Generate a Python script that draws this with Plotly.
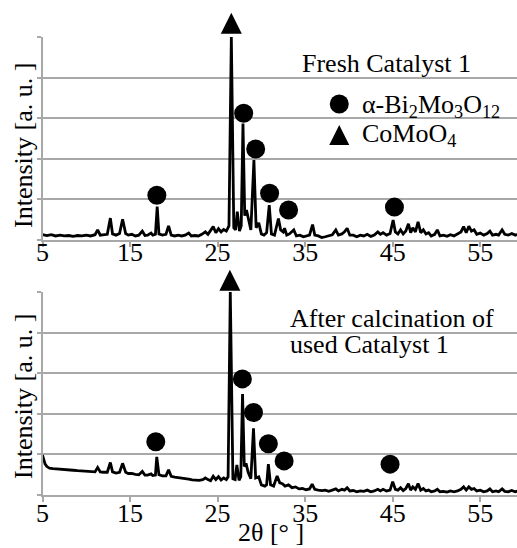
import plotly.graph_objects as go

# ---------------- data ----------------
fresh_x = [5.0, 5.5, 6.0, 6.5, 7.0, 7.5, 8.0, 8.5, 9.0, 9.5, 10.0, 10.5, 11.0, 11.3, 11.6, 12.0, 12.4, 12.75, 13.0, 13.4,
           13.8, 14.15, 14.5, 14.8, 15.2, 15.6, 16.0, 16.4, 16.7, 17.0, 17.4, 17.6, 17.9, 18.1, 18.3, 18.7, 19.1, 19.4, 19.7, 20.1,
           20.5, 20.9, 21.3, 21.7, 22.0, 22.4, 22.8, 23.2, 23.6, 23.9, 24.2, 24.5, 24.8, 25.1, 25.4, 25.7, 26.0, 26.3, 26.57, 26.85,
           27.05, 27.25, 27.5, 27.7, 27.9, 28.1, 28.3, 28.55, 28.8, 29.15, 29.4, 29.7, 30.0, 30.3, 30.6, 30.9, 31.15, 31.5, 31.95, 32.2,
           32.5, 32.65, 32.9, 33.2, 33.7, 34.0, 34.4, 34.8, 35.2, 35.5, 35.85, 36.1, 36.5, 36.9, 37.3, 37.7, 38.1, 38.5, 38.8, 39.2,
           39.5, 39.8, 40.1, 40.5, 40.9, 41.3, 41.7, 42.1, 42.5, 42.9, 43.3, 43.6, 43.9, 44.3, 44.7, 45.05, 45.3, 45.6, 45.9, 46.2,
           46.5, 46.8, 47.05, 47.3, 47.6, 47.9, 48.2, 48.5, 48.8, 49.1, 49.4, 49.8, 50.1, 50.4, 50.8, 51.2, 51.6, 52.0, 52.4, 52.8,
           53.1, 53.4, 53.7, 54.0, 54.3, 54.6, 55.0, 55.4, 55.8, 56.1, 56.4, 56.8, 57.1, 57.5, 57.8, 58.2, 58.6, 59.0, 59.3]
fresh_y = [0.13, 0.11, 0.13, 0.10, 0.12, 0.10, 0.11, 0.09, 0.11, 0.10, 0.12, 0.10, 0.13, 0.25, 0.12, 0.13, 0.14, 0.54, 0.15, 0.12,
           0.16, 0.51, 0.16, 0.12, 0.14, 0.10, 0.12, 0.22, 0.11, 0.12, 0.17, 0.12, 0.14, 0.82, 0.15, 0.12, 0.14, 0.35, 0.12, 0.10,
           0.12, 0.10, 0.12, 0.17, 0.10, 0.11, 0.10, 0.14, 0.20, 0.14, 0.24, 0.33, 0.18, 0.28, 0.20, 0.26, 0.22, 0.35, 5.00, 0.30,
           0.25, 0.70, 0.22, 0.35, 2.87, 0.60, 0.74, 0.45, 0.25, 1.97, 0.30, 0.42, 0.15, 0.12, 0.18, 0.86, 0.15, 0.12, 0.53, 0.25,
           0.20, 0.29, 0.12, 0.15, 0.25, 0.10, 0.12, 0.08, 0.10, 0.12, 0.38, 0.12, 0.10, 0.06, 0.08, 0.10, 0.13, 0.25, 0.12, 0.15,
           0.20, 0.29, 0.12, 0.12, 0.08, 0.12, 0.10, 0.14, 0.09, 0.12, 0.20, 0.14, 0.18, 0.12, 0.16, 0.49, 0.20, 0.15, 0.25, 0.15,
           0.22, 0.40, 0.18, 0.30, 0.20, 0.45, 0.18, 0.25, 0.15, 0.18, 0.10, 0.14, 0.25, 0.10, 0.12, 0.09, 0.13, 0.10, 0.14, 0.20,
           0.33, 0.18, 0.34, 0.22, 0.25, 0.14, 0.17, 0.12, 0.16, 0.22, 0.12, 0.14, 0.12, 0.25, 0.14, 0.12, 0.16, 0.12, 0.14]

calc_x = [5.0, 5.15, 5.3, 5.5, 5.8, 6.2, 6.6, 7.0, 7.5, 8.0, 8.5, 9.0, 9.5, 10.0, 10.5, 11.0, 11.3, 11.6, 12.0, 12.4,
          12.75, 13.0, 13.4, 13.8, 14.15, 14.5, 14.8, 15.2, 15.6, 16.0, 16.4, 16.7, 17.0, 17.4, 17.6, 17.9, 18.05, 18.3, 18.7, 19.1,
          19.4, 19.7, 20.1, 20.5, 20.9, 21.3, 21.7, 22.1, 22.5, 22.9, 23.3, 23.6, 23.9, 24.2, 24.5, 24.8, 25.1, 25.4, 25.7, 26.0,
          26.2, 26.45, 26.75, 27.0, 27.2, 27.45, 27.65, 27.85, 28.05, 28.25, 28.5, 28.8, 29.1, 29.35, 29.7, 30.0, 30.4, 30.6, 30.8, 31.05,
          31.4, 31.8, 32.1, 32.4, 32.7, 33.1, 33.5, 33.9, 34.3, 34.7, 35.1, 35.5, 35.8, 36.1, 36.5, 36.9, 37.3, 37.7, 38.1, 38.5,
          38.8, 39.2, 39.5, 39.8, 40.1, 40.5, 40.9, 41.3, 41.7, 42.1, 42.5, 42.9, 43.3, 43.6, 43.9, 44.3, 44.7, 45.0, 45.3, 45.6,
          45.9, 46.2, 46.5, 46.8, 47.05, 47.3, 47.6, 47.9, 48.2, 48.5, 48.8, 49.1, 49.4, 49.8, 50.1, 50.4, 50.8, 51.2, 51.6, 52.0,
          52.4, 52.8, 53.1, 53.4, 53.7, 54.0, 54.3, 54.6, 55.0, 55.4, 55.8, 56.1, 56.4, 56.8, 57.1, 57.5, 57.8, 58.2, 58.6, 59.0, 59.3]
calc_y = [0.98, 0.85, 0.76, 0.70, 0.66, 0.65, 0.64, 0.64, 0.62, 0.62, 0.61, 0.60, 0.59, 0.58, 0.58, 0.57, 0.68, 0.57, 0.56, 0.56,
          0.80, 0.57, 0.54, 0.56, 0.78, 0.56, 0.53, 0.53, 0.51, 0.50, 0.58, 0.49, 0.49, 0.52, 0.48, 0.49, 0.94, 0.50, 0.47, 0.47,
          0.62, 0.46, 0.44, 0.43, 0.41, 0.40, 0.39, 0.37, 0.36, 0.36, 0.38, 0.42, 0.38, 0.35, 0.46, 0.38, 0.45, 0.37, 0.42, 0.38,
          0.45, 5.00, 0.40, 0.38, 0.74, 0.36, 0.45, 2.49, 0.70, 0.78, 0.55, 0.40, 1.64, 0.42, 0.45, 0.25, 0.22, 0.25, 0.76, 0.25,
          0.22, 0.47, 0.30, 0.28, 0.22, 0.25, 0.18, 0.20, 0.15, 0.16, 0.13, 0.15, 0.27, 0.14, 0.12, 0.11, 0.12, 0.09, 0.12, 0.15,
          0.10, 0.14, 0.12, 0.18, 0.10, 0.11, 0.08, 0.10, 0.09, 0.12, 0.08, 0.10, 0.14, 0.10, 0.14, 0.10, 0.12, 0.33, 0.14, 0.12,
          0.18, 0.11, 0.16, 0.28, 0.12, 0.20, 0.14, 0.28, 0.12, 0.16, 0.10, 0.12, 0.08, 0.10, 0.14, 0.08, 0.09, 0.07, 0.10, 0.08,
          0.10, 0.14, 0.20, 0.12, 0.20, 0.14, 0.16, 0.10, 0.12, 0.08, 0.10, 0.15, 0.08, 0.10, 0.08, 0.15, 0.09, 0.08, 0.11, 0.08, 0.10]

# phase markers (peak assignments)
fresh_bi_x = [18.06, 27.98, 29.35, 30.94, 33.11, 45.2]
fresh_bi_y = [1.10, 3.12, 2.24, 1.15, 0.74, 0.81]
fresh_co_x = [26.57]
fresh_co_y = [5.6]

calc_bi_x = [17.94, 27.83, 29.1, 30.8, 32.6, 44.7]
calc_bi_y = [1.31, 2.86, 2.03, 1.26, 0.84, 0.76]
calc_co_x = [26.4]
calc_co_y = [5.55]

legend_x = [38.9, 38.9]
legend_y = [3.35, 2.83]

x_ticks = [5, 15, 25, 35, 45, 55]
y_ticks = [0, 1, 2, 3, 4, 5]

# ---------------- figure ----------------
FONT = "Liberation Serif, Times New Roman, serif"
GRID = "#a8a8a8"
W, H = 517, 548
X_RANGE = [5, 59.2]
Y_MAX = 5

xdom = [42.5 / W, 1.0]
top_px = (37, 240)
bot_px = (292, 495)
top_dom = [1 - top_px[1] / H, 1 - top_px[0] / H]
bot_dom = [1 - bot_px[1] / H, 1 - bot_px[0] / H]
ppu_top = (top_px[1] - top_px[0]) / Y_MAX
ppu_bot = (bot_px[1] - bot_px[0]) / Y_MAX
# taller (invisible) marker axes with the same scale, so symbols above the frame are shown
mk_top_dom = [top_dom[0], 1.0]
mk_top_rng = [0, top_px[1] / ppu_top]
mk_bot_dom = [bot_dom[0], 1 - 258 / H]
mk_bot_rng = [0, (bot_px[1] - 258) / ppu_bot]

fig = go.Figure()

line_style = dict(color="black", width=2.8)
fig.add_trace(go.Scatter(x=fresh_x, y=fresh_y, mode="lines", line=line_style, xaxis="x", yaxis="y", showlegend=False))
fig.add_trace(go.Scatter(x=calc_x, y=calc_y, mode="lines", line=line_style, xaxis="x2", yaxis="y2", showlegend=False))

circ = dict(symbol="circle", size=19, color="black", line=dict(width=0))
tri = dict(symbol="arrow-up", size=21, color="black", line=dict(width=0))
for xa, ya, bx, by, cx, cy in [("x", "y3", fresh_bi_x, fresh_bi_y, fresh_co_x, fresh_co_y),
                               ("x2", "y4", calc_bi_x, calc_bi_y, calc_co_x, calc_co_y)]:
    fig.add_trace(go.Scatter(x=bx, y=by, mode="markers", marker=circ, xaxis=xa, yaxis=ya,
                             cliponaxis=False, showlegend=False))
    fig.add_trace(go.Scatter(x=cx, y=cy, mode="markers", marker=tri, xaxis=xa, yaxis=ya,
                             cliponaxis=False, showlegend=False))

# legend keys
fig.add_trace(go.Scatter(x=[legend_x[0]], y=[legend_y[0]], mode="markers", marker=circ,
                         xaxis="x", yaxis="y3", cliponaxis=False, showlegend=False))
fig.add_trace(go.Scatter(x=[legend_x[1]], y=[legend_y[1]], mode="markers",
                         marker=dict(symbol="arrow-up", size=20, color="black", line=dict(width=0)),
                         xaxis="x", yaxis="y3", cliponaxis=False, showlegend=False))

tickfont = dict(family=FONT, size=26, color="black")

xaxis_common = dict(
    range=X_RANGE, tickmode="array", tickvals=x_ticks, ticktext=[str(v) for v in x_ticks],
    showgrid=False, zeroline=False, showline=True, linecolor=GRID, linewidth=2,
    ticks="outside", ticklen=5, tickwidth=2, tickcolor=GRID,
    tickfont=tickfont, domain=xdom, automargin=False,
)
yaxis_common = dict(
    range=[0, Y_MAX], tickmode="array", tickvals=y_ticks, showticklabels=False,
    showgrid=True, gridcolor=GRID, gridwidth=2, zeroline=False,
    showline=True, linecolor=GRID, linewidth=2,
    ticks="outside", ticklen=4, tickwidth=2, tickcolor=GRID, automargin=False,
)

fig.update_layout(
    width=W, height=H,
    margin=dict(l=0, r=0, t=0, b=0),
    paper_bgcolor="white", plot_bgcolor="rgba(0,0,0,0)",
    font=dict(family=FONT, size=26, color="black"),
    xaxis=dict(**xaxis_common, anchor="y", ticklabelstandoff=-17),
    xaxis2=dict(**xaxis_common, anchor="y2", ticklabelstandoff=-11),
    yaxis=dict(**yaxis_common, domain=top_dom, anchor="x"),
    yaxis2=dict(**yaxis_common, domain=bot_dom, anchor="x2"),
    yaxis3=dict(domain=mk_top_dom, range=mk_top_rng, visible=False, anchor="x"),
    yaxis4=dict(domain=mk_bot_dom, range=mk_bot_rng, visible=False, anchor="x2"),
    showlegend=False,
)

def px_ann(text, x, y, xanchor="center", angle=0, size=26):
    fig.add_annotation(text=text, xref="paper", yref="paper", x=x / W, y=1 - y / H,
                       xanchor=xanchor, yanchor="middle", showarrow=False, textangle=angle,
                       font=dict(family=FONT, size=size, color="black"))

px_ann("Fresh Catalyst 1", 386, 64)
px_ann("α-Bi<sub>2</sub>Mo<sub>3</sub>O<sub>12</sub>", 360, 106, xanchor="left")
px_ann("CoMoO<sub>4</sub>", 360, 135, xanchor="left")
px_ann("After calcination of", 288, 318, xanchor="left")
px_ann("used Catalyst 1", 288, 344, xanchor="left")
px_ann("Intensity [a. u. ]", 23, 146, angle=-90)
px_ann("Intensity [a. u. ]", 23, 397, angle=-90)
px_ann("2θ [° ]", 271, 532)

fig.write_html("out.html")
